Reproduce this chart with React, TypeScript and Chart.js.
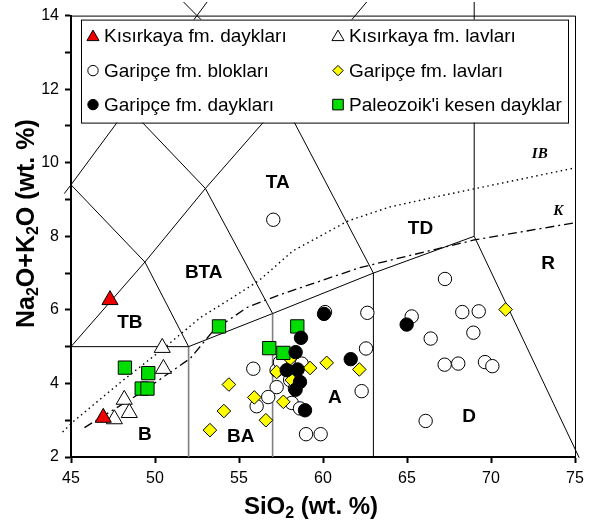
import React, { useEffect, useRef } from "react";
import { Chart, registerables } from "chart.js";
Chart.register(...registerables);

const FONT = "'Liberation Sans', Arial, sans-serif";

// axis ranges / ticks
const X_MIN = 45;
const X_MAX = 75;
const Y_MIN = 2;
const Y_MAX = 14;
const X_STEP = 5;
const Y_STEP = 1;

// data series (SiO2, Na2O+K2O)
const kisirkayaDayk = [
  { x: 47.32, y: 6.27 },
  { x: 46.92, y: 3.07 },
];
const kisirkayaLav = [
  { x: 50.43, y: 4.97 },
  { x: 50.5, y: 4.4 },
  { x: 48.17, y: 3.56 },
  { x: 48.47, y: 3.2 },
  { x: 47.58, y: 3.03 },
];
const garipceBlok = [
  { x: 57.04, y: 8.45 },
  { x: 60.12, y: 5.94 },
  { x: 62.64, y: 5.92 },
  { x: 62.56, y: 4.95 },
  { x: 62.3, y: 3.79 },
  { x: 55.85, y: 4.4 },
  { x: 57.24, y: 4.36 },
  { x: 57.44, y: 4.58 },
  { x: 57.24, y: 3.9 },
  { x: 56.74, y: 3.63 },
  { x: 56.05, y: 3.38 },
  { x: 58.14, y: 3.47 },
  { x: 58.63, y: 3.32 },
  { x: 58.73, y: 4.54 },
  { x: 58.43, y: 4.04 },
  { x: 58.04, y: 4.09 },
  { x: 58.33, y: 3.86 },
  { x: 58.99, y: 2.62 },
  { x: 59.86, y: 2.62 },
  { x: 67.26, y: 6.84 },
  { x: 65.28, y: 5.82 },
  { x: 68.29, y: 5.94 },
  { x: 69.27, y: 5.96 },
  { x: 68.95, y: 5.38 },
  { x: 66.41, y: 5.22 },
  { x: 67.24, y: 4.51 },
  { x: 68.05, y: 4.54 },
  { x: 69.64, y: 4.58 },
  { x: 70.08, y: 4.47 },
  { x: 66.11, y: 2.98 },
];
const garipceLav = [
  { x: 60.22, y: 4.56 },
  { x: 59.23, y: 4.42 },
  { x: 62.16, y: 4.38 },
  { x: 57.24, y: 4.31 },
  { x: 58.04, y: 4.67 },
  { x: 58.14, y: 4.09 },
  { x: 54.4, y: 3.97 },
  { x: 55.91, y: 3.62 },
  { x: 57.64, y: 3.5 },
  { x: 54.1, y: 3.25 },
  { x: 56.6, y: 3.0 },
  { x: 53.27, y: 2.73 },
  { x: 70.87, y: 6.01 },
];
const garipceDayk = [
  { x: 60.06, y: 5.89 },
  { x: 58.69, y: 5.24 },
  { x: 58.37, y: 4.85 },
  { x: 61.65, y: 4.66 },
  { x: 57.84, y: 4.36 },
  { x: 58.49, y: 4.38 },
  { x: 58.63, y: 4.04 },
  { x: 58.37, y: 3.83 },
  { x: 58.93, y: 3.27 },
  { x: 64.98, y: 5.6 },
];
const paleozoikDayk = [
  { x: 48.21, y: 4.43 },
  { x: 49.6, y: 4.28 },
  { x: 49.21, y: 3.86 },
  { x: 49.55, y: 3.86 },
  { x: 53.81, y: 5.55 },
  { x: 58.47, y: 5.55 },
  { x: 56.8, y: 4.96 },
  { x: 57.64, y: 4.83 },
];

// TAS field boundaries (Le Bas et al.)
const tasBlack: number[][][] = [
  [[44.6, 9.16], [45, 9.4], [48.4, 11.5], [52.5, 14], [53.1, 14.37]],
  [[45, 5], [49.4, 7.3], [53, 9.3], [57.6, 11.7], [61, 13.5], [62.6, 14.37]],
  [[45, 5], [52, 5], [57, 5.9], [63, 7], [69, 8]],
  [[52, 5], [49.4, 7.3], [45, 9.4]],
  [[57, 5.9], [53, 9.3], [48.4, 11.5]],
  [[63, 7], [57.6, 11.7], [52.5, 14], [51.7, 14.37]],
  [[69, 8], [69, 14.37]],
  [[69, 8], [75.25, 1.98]],
  [[63, 2], [63, 7]],
];
const tasGray: number[][][] = [
  [[52, 2], [52, 5]],
  [[57, 2], [57, 5.9]],
];
// Irvine & Baragar (IB) and Kuno (K) divides
const ibLine = [
  [44.5, 2.68], [45.1, 2.95], [48, 4.05], [50.5, 4.95], [52.7, 5.79], [54.5, 6.3],
  [56.2, 6.8], [58.2, 7.6], [61.5, 8.42], [64, 8.8], [67, 9.1], [69, 9.29], [75, 9.86], [75.5, 9.94],
];
const kLine = [
  [45.8, 2.8], [49, 3.7], [52.1, 4.68], [53.5, 5.45], [55.5, 6.07], [57.3, 6.39],
  [62.2, 7.15], [69, 7.9], [75, 8.37], [75.5, 8.45],
];

const regionLabels = [
  { t: "TB", x: 48.5, y: 5.66 },
  { t: "BTA", x: 52.9, y: 7.0 },
  { t: "TA", x: 57.3, y: 9.45 },
  { t: "TD", x: 65.8, y: 8.2 },
  { t: "R", x: 73.4, y: 7.26 },
  { t: "B", x: 49.4, y: 2.6 },
  { t: "BA", x: 55.1, y: 2.54 },
  { t: "A", x: 60.7, y: 3.6 },
  { t: "D", x: 68.7, y: 3.1 },
];
const lineLabels = [
  { t: "IB", x: 72.9, y: 10.24 },
  { t: "K", x: 74.0, y: 8.69 },
];

const toPts = (a: number[][]) => a.map(([x, y]) => ({ x, y }));

function lineDs(pts: number[][], color: string, width: number, dash: number[] = []) {
  return {
    data: toPts(pts),
    showLine: true,
    borderColor: color,
    borderWidth: width,
    borderDash: dash,
    pointRadius: 0,
    tension: 0,
    clip: false as const,
    order: 10,
    isBoundary: true,
  };
}

function drawMarker(ctx: CanvasRenderingContext2D, style: string, x: number, y: number, r: number, fill: string) {
  ctx.save();
  ctx.beginPath();
  if (style === "circle") {
    ctx.arc(x, y, r, 0, Math.PI * 2);
  } else if (style === "triangle") {
    ctx.moveTo(x, y - r);
    ctx.lineTo(x + r * 0.866, y + r * 0.5);
    ctx.lineTo(x - r * 0.866, y + r * 0.5);
    ctx.closePath();
  } else if (style === "rectRot") {
    ctx.moveTo(x - r, y);
    ctx.lineTo(x, y - r);
    ctx.lineTo(x + r, y);
    ctx.lineTo(x, y + r);
    ctx.closePath();
  } else {
    const s = r * Math.SQRT1_2;
    ctx.rect(x - s, y - s, 2 * s, 2 * s);
  }
  ctx.fillStyle = fill;
  ctx.fill();
  ctx.lineWidth = 1;
  ctx.strokeStyle = "#000";
  ctx.stroke();
  ctx.restore();
}

function drawRich(
  ctx: CanvasRenderingContext2D,
  parts: [string, boolean][],
  cx: number,
  cy: number,
  size: number
) {
  const main = `bold ${size}px ${FONT}`;
  const sub = `bold ${Math.round(size * 0.65)}px ${FONT}`;
  let total = 0;
  for (const [t, s] of parts) {
    ctx.font = s ? sub : main;
    total += ctx.measureText(t).width;
  }
  let x = cx - total / 2;
  ctx.textBaseline = "middle";
  ctx.textAlign = "left";
  ctx.fillStyle = "#000";
  for (const [t, s] of parts) {
    ctx.font = s ? sub : main;
    ctx.fillText(t, x, s ? cy + size * 0.28 : cy);
    x += ctx.measureText(t).width;
  }
}

const overlayPlugin = {
  id: "overlay",
  afterDatasetsDraw(chart: any) {
    const { ctx, chartArea: ca, scales } = chart;
    const xs = scales.x;
    const ys = scales.y;
    ctx.save();
    // frame top / right
    ctx.strokeStyle = "#000";
    ctx.lineWidth = 1;
    ctx.beginPath();
    ctx.moveTo(ca.left, ca.top + 0.5);
    ctx.lineTo(ca.right + 0.5, ca.top + 0.5);
    ctx.lineTo(ca.right + 0.5, ca.bottom);
    ctx.stroke();

    // region labels
    ctx.fillStyle = "#000";
    ctx.textAlign = "center";
    ctx.textBaseline = "middle";
    ctx.font = `bold 19px ${FONT}`;
    for (const l of regionLabels) {
      ctx.fillText(l.t, xs.getPixelForValue(l.x), ys.getPixelForValue(l.y));
    }
    ctx.font = "bold italic 15px 'Liberation Serif', 'Times New Roman', serif";
    for (const l of lineLabels) {
      ctx.fillText(l.t, xs.getPixelForValue(l.x), ys.getPixelForValue(l.y));
    }

    // legend box
    const lx = ca.left + 10;
    const ly = ca.top + 4;
    const lw = 487;
    const lh = 103;
    ctx.fillStyle = "#fff";
    ctx.fillRect(lx, ly, lw, lh);
    ctx.strokeStyle = "#000";
    ctx.lineWidth = 1;
    ctx.strokeRect(lx + 0.5, ly + 0.5, lw, lh);

    const pointSets = chart.data.datasets.filter((d: any) => !d.isBoundary);
    const colX = [ca.left + 22, ca.left + 267];
    const rowY = [ly + 16, ly + 51, ly + 85];
    ctx.font = `19px ${FONT}`;
    ctx.textAlign = "left";
    ctx.textBaseline = "middle";
    pointSets.forEach((d: any) => {
      const mx = colX[d.legendCol];
      const my = rowY[d.legendRow];
      const lr = d.pointStyle === "triangle" ? 7 : d.pointStyle === "rect" ? 7.5 : 5.2;
      drawMarker(ctx, d.pointStyle, mx, my + (d.pointStyle === "triangle" ? 1.5 : 0), lr, d.backgroundColor);
      ctx.fillStyle = "#000";
      ctx.fillText(d.label, mx + 11, my + 1);
    });
    ctx.restore();
  },
  afterDraw(chart: any) {
    const { ctx, chartArea: ca } = chart;
    ctx.save();
    drawRich(ctx, [["SiO", false], ["2", true], [" (wt. %)", false]], ca.left + 240, 507, 24);
    ctx.translate(27, ca.top + 208);
    ctx.rotate(-Math.PI / 2);
    drawRich(
      ctx,
      [["Na", false], ["2", true], ["O+K", false], ["2", true], ["O (wt. %)", false]],
      0,
      0,
      25
    );
    ctx.restore();
  },
};

function pointDs(label: string, data: any[], style: string, fill: string, radius: number, order: number, col: number, row: number) {
  return {
    label,
    data,
    pointStyle: style,
    pointRadius: radius,
    pointBackgroundColor: fill,
    backgroundColor: fill,
    pointBorderColor: "#000",
    borderColor: "#000",
    pointBorderWidth: 1,
    showLine: false,
    order,
    legendCol: col,
    legendRow: row,
  };
}

export default function App() {
  const ref = useRef<HTMLCanvasElement | null>(null);
  useEffect(() => {
    if (!ref.current) return;
    const datasets: any[] = [
      ...tasBlack.map((p) => lineDs(p, "#000", 1)),
      ...tasGray.map((p) => lineDs(p, "#808080", 1.6)),
      lineDs(ibLine, "#000", 1.4, [1.5, 3.5]),
      lineDs(kLine, "#000", 1.3, [9, 4, 2, 4]),
      pointDs("Kısırkaya fm. daykları", kisirkayaDayk, "triangle", "#ee0000", 9.3, 1, 0, 0),
      pointDs("Garipçe fm. blokları", garipceBlok, "circle", "#ffffff", 6.7, 6, 0, 1),
      pointDs("Garipçe fm. daykları", garipceDayk, "circle", "#000000", 6.7, 3, 0, 2),
      pointDs("Kısırkaya fm. lavları", kisirkayaLav, "triangle", "#ffffff", 9.3, 2, 1, 0),
      pointDs("Garipçe fm. lavları", garipceLav, "rectRot", "#ffff00", 6.8, 5, 1, 1),
      pointDs("Paleozoik'i kesen dayklar", paleozoikDayk, "rect", "#00dd00", 9.4, 4, 1, 2),
    ];
    const tickFont = { size: 16, family: FONT };
    const chart = new Chart(ref.current, {
      type: "scatter",
      data: { datasets },
      options: {
        responsive: false,
        animation: false,
        events: [],
        layout: { padding: { top: 14, right: 20, left: 0, bottom: 0 } },
        plugins: { legend: { display: false }, tooltip: { enabled: false } },
        scales: {
          x: {
            type: "linear",
            min: X_MIN,
            max: X_MAX,
            afterFit: (s: any) => {
              s.height = 70;
            },
            ticks: { stepSize: X_STEP, color: "#000", font: tickFont, padding: 6, maxRotation: 0 },
            grid: { drawOnChartArea: false, drawTicks: true, tickLength: 6, tickWidth: 2, tickColor: "#000" },
            border: { display: true, color: "#000", width: 2 },
          },
          y: {
            type: "linear",
            min: Y_MIN,
            max: Y_MAX,
            afterFit: (s: any) => {
              s.width = 71;
            },
            ticks: {
              stepSize: Y_STEP,
              color: "#000",
              font: tickFont,
              padding: 6,
              callback: (v: any) => (Number(v) % 2 === 0 ? String(v) : ""),
            },
            grid: { drawOnChartArea: false, drawTicks: true, tickLength: 6, tickWidth: 2, tickColor: "#000" },
            border: { display: true, color: "#000", width: 2 },
          },
        },
      } as any,
      plugins: [overlayPlugin],
    });
    return () => chart.destroy();
  }, []);
  return (
    <div style={{ position: "fixed", left: 0, top: 0, width: 595, height: 527, background: "#fff" }}>
      <canvas ref={ref} width={595} height={527} />
    </div>
  );
}
